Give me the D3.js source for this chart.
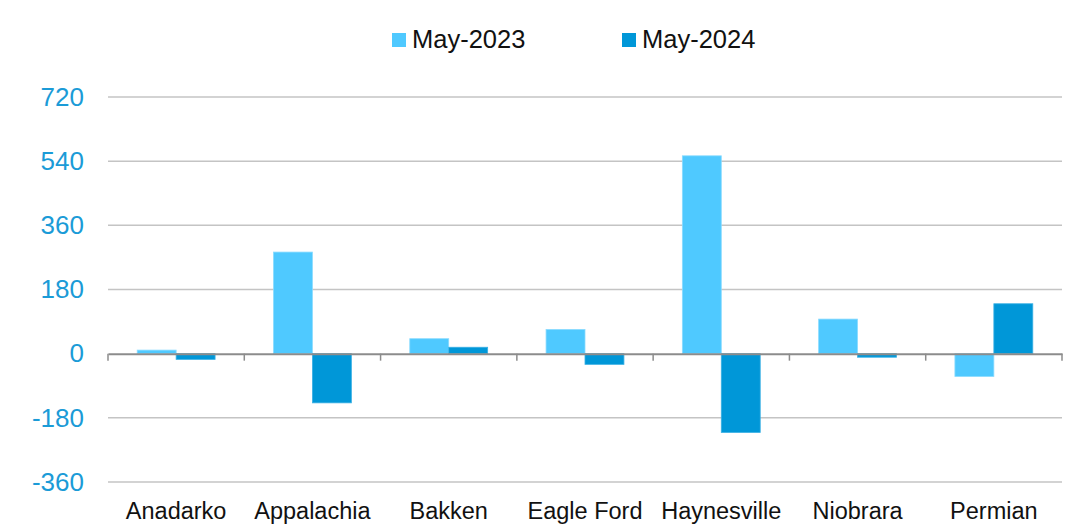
<!DOCTYPE html>
<html>
<head>
<meta charset="utf-8">
<script src="https://cdn.jsdelivr.net/npm/d3@7"></script>
<style>
  html, body { margin: 0; padding: 0; background: #fff; }
  svg { display: block; font-family: "Liberation Sans", Arial, sans-serif; }
</style>
</head>
<body>
<svg id="chart" width="1083" height="529"></svg>
<script>
// Basins and change in output per series
const basins = ["Anadarko", "Appalachia", "Bakken", "Eagle Ford", "Haynesville", "Niobrara", "Permian"];
const seriesNames = ["May-2023", "May-2024"];
const may2023 = [10, 285, 42, 68, 555, 97, -64];
const may2024 = [-16, -138, 18, -30, -221, -10, 140];
const yTicks = [-360, -180, 0, 180, 360, 540, 720];

const colors = ["#4FC9FF", "#0097D8"];
const strokes = ["#8ADBFF", "#3AB0E4"];

const svg = d3.select("#chart");
const margin = { left: 108, right: 21, top: 97, bottom: 47 };
const W = 1083, H = 529;

const x = d3.scaleBand().domain(basins).range([margin.left, W - margin.right]).paddingInner(0).paddingOuter(0);
const y = d3.scaleLinear().domain([-360, 720]).range([H - margin.bottom, margin.top]);
const xs = d3.scaleBand().domain(seriesNames).range([0, x.bandwidth()]).paddingInner(0).paddingOuter(0.75);

// Gridlines
svg.append("g")
  .selectAll("line")
  .data(yTicks.filter(t => t !== 0))
  .join("line")
  .attr("x1", margin.left).attr("x2", W - margin.right)
  .attr("y1", d => y(d)).attr("y2", d => y(d))
  .attr("stroke", "#C4C4C4").attr("stroke-width", 1.5);

// Y axis labels (plain hyphen for negatives)
const yAxis = d3.axisLeft(y).tickValues(yTicks).tickSize(0).tickPadding(24).tickFormat(d => String(d));
const ya = svg.append("g").attr("transform", `translate(${margin.left},0)`).call(yAxis);
ya.select(".domain").remove();
ya.selectAll("text")
  .attr("fill", "#1B9BD7")
  .style("font-size", "26px")
  .style("font-family", "'Liberation Sans', Arial, sans-serif");

// Bars
const rows = basins.map((b, i) => ({ basin: b, values: [may2023[i], may2024[i]] }));
const groups = svg.append("g").selectAll("g")
  .data(rows).join("g")
  .attr("transform", d => `translate(${x(d.basin)},0)`);
groups.selectAll("rect")
  .data(d => d.values.map((v, k) => ({ key: seriesNames[k], v, k })))
  .join("rect")
  .attr("x", d => xs(d.key))
  .attr("width", xs.bandwidth())
  .attr("y", d => y(Math.max(0, d.v)))
  .attr("height", d => Math.abs(y(d.v) - y(0)))
  .attr("fill", d => colors[d.k])
  .attr("stroke", d => strokes[d.k])
  .attr("stroke-width", 0.8);

// Zero axis with category tick marks
const xAxis = d3.axisBottom(x).tickSize(0).tickFormat("");
const xa = svg.append("g").attr("transform", `translate(0,${y(0)})`).call(xAxis);
xa.select(".domain").attr("stroke", "#8C8C8C").attr("stroke-width", 2);
const boundaries = basins.map(b => x(b)).concat([x(basins[basins.length - 1]) + x.bandwidth()]);
xa.selectAll(".bnd").data(boundaries).join("line")
  .attr("class", "bnd")
  .attr("x1", d => d).attr("x2", d => d)
  .attr("y1", 0).attr("y2", 7)
  .attr("stroke", "#8C8C8C").attr("stroke-width", 1.5);

// Category labels along the bottom
svg.append("g").selectAll("text")
  .data(basins).join("text")
  .attr("x", d => x(d) + x.bandwidth() / 2)
  .attr("y", 519)
  .attr("text-anchor", "middle")
  .attr("fill", "#111")
  .style("font-size", "23.5px")
  .text(d => d);

// Legend
const legendX = [392, 622];
const lg = svg.append("g").selectAll("g")
  .data(seriesNames).join("g")
  .attr("transform", (d, i) => `translate(${legendX[i]},0)`);
lg.append("rect")
  .attr("x", 0).attr("y", 33).attr("width", 14).attr("height", 14)
  .attr("fill", (d, i) => colors[i]);
lg.append("text")
  .attr("x", 20).attr("y", 47.5)
  .attr("fill", "#111")
  .style("font-size", "25.5px")
  .text(d => d);
</script>
</body>
</html>
